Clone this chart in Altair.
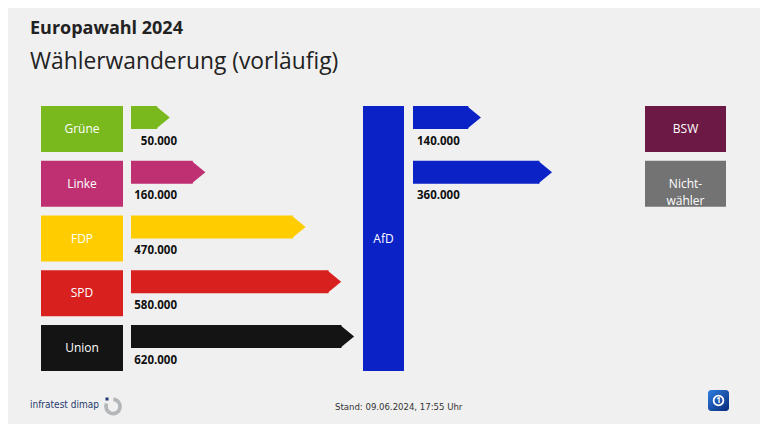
import altair as alt
import pandas as pd

# ---------------- data ----------------
sources = ["Grüne", "Linke", "FDP", "SPD", "Union"]
source_colors = ["#79b91e", "#bf3072", "#ffcc00", "#d8201f", "#141414"]
to_afd = [50000, 160000, 470000, 580000, 620000]

targets = ["BSW", "Nicht-\nwähler"]
target_colors = ["#6c1a45", "#737373"]
from_afd = [140000, 360000]

afd_label = "AfD"
afd_color = "#0a22c6"

title = "Europawahl 2024"
subtitle = "Wählerwanderung (vorläufig)"
stand = "Stand:  09.06.2024, 17:55 Uhr"
source_note = "infratest dimap"

# ---------------- layout ----------------
W, H = 752, 416
ROW0, STEP, BOX_H, ARROW_H = 98, 54.75, 46, 23
LEFT_X0, LEFT_X1 = 33, 115
AFD_X0, AFD_X1 = 355, 396
RIGHT_X0, RIGHT_X1 = 637, 718
FONT = "Open Sans"
NARROW = "Liberation Sans Narrow, DejaVu Sans Condensed, Roboto"


def fmt(v):
    return f"{v:,}".replace(",", ".")


XS = alt.Scale(domain=[0, W], nice=False, zero=False)
YS = alt.Scale(domain=[0, H], reverse=True, nice=False, zero=False)


def rows_frame(names, colors, values, x0, x1):
    df = pd.DataFrame({"name": names, "color": colors, "value": values})
    df["label"] = [fmt(v) for v in values]
    df["top"] = [ROW0 + i * STEP for i in range(len(names))]
    df["bottom"] = df["top"] + BOX_H
    df["mid"] = df["top"] + BOX_H / 2
    df["atop"] = df["top"]
    df["abot"] = df["top"] + ARROW_H
    df["amid"] = df["top"] + ARROW_H / 2
    df["lab_y"] = df["top"] + 35.5
    df["x0"] = x0
    df["x1"] = x1
    df["xc"] = (x0 + x1) / 2
    return df


left = rows_frame(sources, source_colors, to_afd, LEFT_X0, LEFT_X1)
right = rows_frame(targets, target_colors, from_afd, RIGHT_X0, RIGHT_X1)

afd = pd.DataFrame({
    "name": [afd_label],
    "x0": [AFD_X0], "x1": [AFD_X1], "xc": [(AFD_X0 + AFD_X1) / 2],
    "top": [ROW0], "bottom": [ROW0 + (len(sources) - 1) * STEP + BOX_H],
})
afd["mid"] = (afd["top"] + afd["bottom"]) / 2


def boxes(df):
    rect = alt.Chart(df).mark_rect().encode(
        x=alt.X("x0:Q", scale=XS, axis=None),
        x2="x1:Q",
        y=alt.Y("top:Q", scale=YS, axis=None),
        y2="bottom:Q",
        color=alt.Color("color:N", scale=None),
    )
    txt = alt.Chart(df).mark_text(
        color="white", fontSize=12, font=FONT, lineBreak="\n", lineHeight=17
    ).encode(
        x=alt.X("xc:Q", scale=XS, axis=None),
        y=alt.Y("mid:Q", scale=YS, axis=None),
        text="name:N",
    )
    return alt.layer(rect, txt)


TIP = "M -0.12 -1 L 1.1 0 L -0.12 1 Z"


def arrows(df, color, start, end_at_zero, end_at_max, vmax, label_x, label_align):
    sx = alt.Scale(domain=[0, vmax], range=[end_at_zero, end_at_max], nice=False, zero=False)
    col = alt.Color("color:N", scale=None) if color is None else alt.value(color)
    body = alt.Chart(df).mark_bar().encode(
        x=alt.X("value:Q", scale=sx, axis=None),
        x2=alt.value(start),
        y=alt.Y("atop:Q", scale=YS, axis=None),
        y2="abot:Q",
        color=col,
    )
    tip = alt.Chart(df).mark_point(
        shape=TIP, filled=True, opacity=1, size=ARROW_H ** 2, strokeWidth=0
    ).encode(
        x=alt.X("value:Q", scale=sx, axis=None),
        y=alt.Y("amid:Q", scale=YS, axis=None),
        color=col,
    )
    lab = alt.Chart(df).mark_text(
        fontSize=11.5, fontWeight="bold", font=FONT, color="#111", align=label_align
    ).encode(
        x=alt.value(label_x),
        y=alt.Y("lab_y:Q", scale=YS, axis=None),
        text="label:N",
    )
    return alt.layer(body, tip, lab)


# pixels per voter: 0.3233 px per 1000
PX = 0.3233 / 1000
left_arrows = arrows(left, None, 123, 133, 133 + PX * 620000, 620000, 169, "right")
right_arrows = arrows(right, afd_color, 405, 415, 415 + PX * 620000, 620000, 409, "left")

afd_bar = alt.Chart(afd).mark_rect(color=afd_color).encode(
    x=alt.X("x0:Q", scale=XS, axis=None), x2="x1:Q",
    y=alt.Y("top:Q", scale=YS, axis=None), y2="bottom:Q",
)
afd_txt = alt.Chart(afd).mark_text(color="white", fontSize=12, font=FONT).encode(
    x=alt.X("xc:Q", scale=XS, axis=None),
    y=alt.Y("mid:Q", scale=YS, axis=None),
    text="name:N",
)

one = pd.DataFrame({"t": [0]})

title_t = alt.Chart(pd.DataFrame({"t": [title]})).mark_text(
    fontSize=18, fontWeight="bold", font=FONT, color="#222", align="left", baseline="alphabetic"
).encode(x=alt.value(22), y=alt.value(26), text="t:N")
sub_t = alt.Chart(pd.DataFrame({"t": [subtitle]})).mark_text(
    fontSize=22.8, font=FONT, color="#222", align="left", baseline="alphabetic"
).encode(x=alt.value(22), y=alt.value(60.5), text="t:N")

src_t = alt.Chart(pd.DataFrame({"t": [source_note]})).mark_text(
    fontSize=10, font=NARROW, color="#1f3a6e",
    align="left", baseline="middle"
).encode(x=alt.value(22), y=alt.value(397), text="t:N")
logo_ring = alt.Chart(one).mark_arc(
    radius=9, radius2=5.2, theta=0.05, theta2=5.15, color="#b4b7ba"
).encode(x=alt.value(105), y=alt.value(398.5))
logo_dot = alt.Chart(one).mark_rect(color="#1f3a6e").encode(
    x=alt.value(97.5), x2=alt.value(100.5), y=alt.value(389.5), y2=alt.value(392.5)
)
stand_t = alt.Chart(pd.DataFrame({"t": [stand]})).mark_text(
    fontSize=9.5, font=NARROW, color="#333",
    align="left", baseline="middle"
).encode(x=alt.value(327), y=alt.value(399), text="t:N")

ard_bg = alt.Chart(one).mark_rect(
    cornerRadius=3,
    color=alt.LinearGradient(
        gradient="linear", x1=0, y1=0, x2=1, y2=1,
        stops=[alt.GradientStop(color="#2f7ee0", offset=0), alt.GradientStop(color="#072a7a", offset=1)],
    ),
).encode(x=alt.value(700), x2=alt.value(721), y=alt.value(382), y2=alt.value(403))
ard_ring = alt.Chart(one).mark_point(
    shape="circle", size=95, color="white", strokeWidth=1.8, opacity=1, filled=False
).encode(x=alt.value(710.5), y=alt.value(392.5))
ard_one = alt.Chart(pd.DataFrame({"t": ["1"]})).mark_text(
    fontSize=8, fontWeight="bold", font=FONT, color="white"
).encode(x=alt.value(710.5), y=alt.value(393), text="t:N")

chart = alt.layer(
    boxes(left),
    boxes(right),
    afd_bar,
    afd_txt,
    left_arrows,
    right_arrows,
    title_t, sub_t, src_t, logo_ring, logo_dot, stand_t, ard_bg, ard_ring, ard_one,
).resolve_scale(x="independent").properties(
    width=W, height=H, padding=0, autosize=alt.AutoSizeParams(type="none"),
    background="#f0f0f0",
).configure_view(stroke=None)

chart.save("out.html", embed_options={"renderer": "svg", "actions": False})
